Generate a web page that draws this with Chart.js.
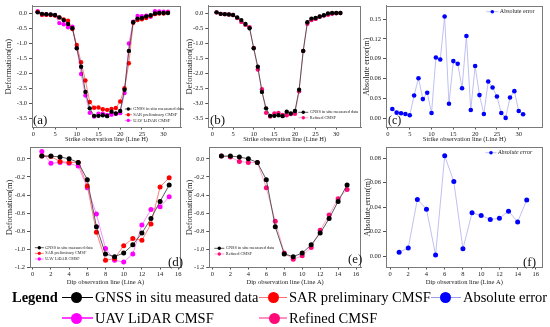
<!DOCTYPE html>
<html><head><meta charset="utf-8">
<script src="https://cdn.jsdelivr.net/npm/chart.js@4/dist/chart.umd.min.js"></script>
<style>
html,body{margin:0;padding:0;background:#fff;}
#wrap{position:relative;width:550px;height:327px;overflow:hidden;font-family:'Liberation Serif',serif;}
canvas{position:absolute;}
.lg{position:absolute;font-size:14.5px;line-height:17px;white-space:nowrap;color:#000;}
.ln{position:absolute;height:1.5px;}
.dot{position:absolute;width:11px;height:11px;border-radius:50%;}
</style></head><body>
<div id="wrap">
<canvas id="ca" width="185" height="143" style="left:0;top:0"></canvas>
<canvas id="cb" width="185" height="143" style="left:180px;top:0"></canvas>
<canvas id="cc" width="190" height="143" style="left:360px;top:0"></canvas>
<canvas id="cd" width="185" height="146" style="left:0;top:140px"></canvas>
<canvas id="ce" width="185" height="146" style="left:180px;top:140px"></canvas>
<canvas id="cf" width="190" height="146" style="left:360px;top:140px"></canvas>
<div id="legend"></div>
</div>
<script>
// ---------- data ----------
const strikeLine = [1,2,3,4,5,6,7,8,9,10,11,12,13,14,15,16,17,18,19,20,21,22,23,24,25,26,27,28,29,30,31];
const strikeGNSS = [0.04,-0.01,-0.02,-0.03,-0.05,-0.13,-0.22,-0.35,-0.49,-1.16,-1.78,-2.62,-3.17,-3.42,-3.42,-3.40,-3.43,-3.28,-3.34,-3.26,-2.55,-1.25,-0.29,-0.17,-0.15,-0.10,-0.06,0.00,0.02,0.02,0.02];
const strikeSAR = [0.055,-0.04,-0.04,-0.05,-0.07,-0.13,-0.20,-0.24,-0.52,-1.05,-1.63,-2.24,-2.96,-3.15,-3.14,-3.20,-3.22,-3.19,-3.16,-2.94,-2.50,-1.66,-0.31,-0.22,-0.19,-0.15,-0.08,-0.02,0.00,0.00,0.03];
const strikeUAV = [0.08,-0.03,-0.03,-0.04,-0.06,-0.32,-0.36,-0.46,-0.44,-1.15,-2.02,-2.74,-3.32,-3.44,-3.35,-3.35,-3.39,-3.38,-3.35,-3.33,-2.66,-1.00,-0.27,-0.08,-0.09,-0.07,-0.11,0.08,0.07,0.06,0.06];
const strikeRefined = [0.04,-0.01,-0.02,-0.03,-0.05,-0.15,-0.28,-0.38,-0.46,-1.15,-1.87,-2.53,-3.32,-3.44,-3.34,-3.32,-3.39,-3.40,-3.36,-3.35,-2.60,-1.25,-0.34,-0.22,-0.18,-0.11,-0.07,-0.04,-0.01,0.01,0.02];
const strikeAbsErr = [0.014,0.0085,0.0075,0.0065,0.0045,0.0345,0.0605,0.029,0.0385,0.008,0.092,0.089,0.154,0.022,0.0865,0.0825,0.0455,0.1245,0.0125,0.079,0.035,0.0065,0.0555,0.0465,0.033,0.008,0.0005,0.0315,0.041,0.011,0.006];

const dipLine = [1,2,3,4,5,6,7,8,9,10,11,12,13,14,15];
const dipGNSS = [0.03,0.03,0.02,0.00,-0.04,-0.23,-0.75,-1.05,-1.08,-1.04,-0.95,-0.82,-0.66,-0.47,-0.29];
const dipSAR = [0.03,0.025,-0.03,-0.04,-0.04,-0.30,-0.81,-1.12,-1.10,-0.96,-0.88,-0.90,-0.72,-0.31,-0.21];
const dipUAV = [0.08,-0.05,-0.04,-0.05,-0.08,-0.32,-0.61,-0.99,-1.12,-1.14,-1.05,-0.73,-0.56,-0.53,-0.42];
const dipRefined = [0.03,0.02,-0.03,-0.04,-0.04,-0.32,-0.69,-1.04,-1.11,-1.07,-0.98,-0.79,-0.62,-0.44,-0.34];
const dipAbsErr = [0.0032,0.0067,0.0464,0.0384,0.001,0.082,0.061,0.006,0.0354,0.0333,0.030,0.031,0.0368,0.028,0.046];

const strikeXTicks = [0,5,10,15,20,25,30];
const dipXTicks = [0,2,4,6,8,10,12,14,16];
const strikeDefTicks = [0,-0.5,-1,-1.5,-2,-2.5,-3,-3.5];
const dipDefTicks = [0,-0.2,-0.4,-0.6,-0.8,-1,-1.2];
const strikeErrTicks = [0,0.03,0.06,0.09,0.12,0.15];
const dipErrTicks = [0,0.02,0.04,0.06,0.08];

const nameGNSS = 'GNSS in situ measured data';
const nameSAR = 'SAR preliminary CMSF';
const nameUAV = 'UAV LiDAR CMSF';
const nameRefined = 'Refined CMSF';
const nameErr = 'Absolute error';

// ---------- styles ----------
const ST = {
  gnss: {dot:'#000000', line:'#333333'},
  sar: {dot:'#ff0000', line:'#ff6060'},
  uav: {dot:'#ff00ff', line:'#ff70ff'},
  ref: {dot:'#ff0a78', line:'#ff90bf'},
  err: {dot:'#0000ff', line:'#b0b0f0'}
};
const FONT = 'Liberation Serif';
Chart.defaults.font.family = FONT;

const decor = {
  id:'decor',
  afterDatasetsDraw(chart, args, o) {
    const {ctx, chartArea:a} = chart;
    ctx.save();
    ctx.strokeStyle = '#7a7a7a'; ctx.lineWidth = 1;
    const L = Math.round(a.left)+0.5, T = Math.round(a.top)+0.5, R = Math.round(a.right)-0.5, B = Math.round(a.bottom)-0.5;
    ctx.strokeRect(L, T, R-L, B-T);
    chart.data.datasets.forEach((d,i)=>{
      const y = o.ly + i*o.dy;
      ctx.strokeStyle = d.borderColor; ctx.lineWidth = 0.8;
      ctx.beginPath(); ctx.moveTo(o.lx-o.half, y); ctx.lineTo(o.lx+o.half, y); ctx.stroke();
      ctx.fillStyle = d.pointBackgroundColor; ctx.beginPath(); ctx.arc(o.lx, y, o.mr, 0, Math.PI*2); ctx.fill();
      ctx.fillStyle = '#222'; ctx.font = (o.italic?'italic ':'') + o.fs + 'px "'+FONT+'"';
      ctx.textBaseline = 'middle'; ctx.textAlign = 'left';
      ctx.fillText(d.label, o.lx+o.half+1.5, y);
    });
    ctx.font = o.tfs + 'px "'+FONT+'"'; ctx.fillStyle = '#111'; ctx.textBaseline = 'alphabetic'; ctx.textAlign='left';
    ctx.fillText(o.tag, o.tx, o.ty);
    ctx.restore();
  }
};

function panel(id, o) {
  return new Chart(document.getElementById(id), {
    type:'line',
    data:{datasets:o.series.map(s=>({
      label:s.label,
      data:o.x.map((xv,i)=>({x:xv, y:s.values[i]})),
      borderColor:s.st.line, borderWidth:0.8,
      pointBackgroundColor:s.st.dot, pointBorderColor:s.st.dot, pointBorderWidth:0,
      pointRadius:o.r, pointStyle:'circle', tension:0, fill:false
    }))},
    options:{
      responsive:false, animation:false, devicePixelRatio:1,
      layout:{padding:o.pad},
      plugins:{legend:{display:false}, tooltip:{enabled:false}, decor:o.decor},
      scales:{
        x:{type:'linear', min:o.xr[0], max:o.xr[1],
          afterBuildTicks:s=>{s.ticks=o.xt.map(v=>({value:v}));},
          afterFit:s=>{s.height=o.xh;},
          grid:{drawOnChartArea:false, drawTicks:true, tickLength:2, color:'#555'},
          border:{display:true, color:'#7a7a7a'},
          ticks:{padding:1, color:'#222', font:{size:6.5}, maxRotation:0, autoSkip:false, callback:v=>String(v)},
          title:{display:true, text:o.xTitle, color:'#222', font:{size:6.5}, padding:0}},
        y:{type:'linear', min:o.yr[0], max:o.yr[1],
          afterBuildTicks:s=>{s.ticks=o.yt.map(v=>({value:v}));},
          afterFit:s=>{s.width=o.yw;},
          grid:{drawOnChartArea:false, drawTicks:true, tickLength:3, color:'#555'},
          border:{display:true, color:'#7a7a7a'},
          ticks:{padding:2, color:'#222', font:{size:6.5}, autoSkip:false, callback:v=>Number(v).toFixed(o.yd)},
          title:{display:true, text:o.yTitle, color:'#222', font:{size:o.ytfs}, padding:{top:o.ytp, bottom:0}}}
      }
    },
    plugins:[decor]
  });
}

const strikeX = 'Strike observation line (Line H)';
const dipX = 'Dip observation line (Line A)';
const defY = 'Deformation(m)';
const errY = 'Absolute error(m)';

panel('ca', {x:strikeLine, r:2.2, pad:{top:5,right:3,left:0,bottom:0}, xr:[-0.3,34], yr:[-3.81,0.255], xt:strikeXTicks, yt:strikeDefTicks, yd:1, xh:15.5, yw:32, xTitle:strikeX, yTitle:defY, ytfs:8.5, ytp:4,
  series:[{label:nameGNSS, values:strikeGNSS, st:ST.gnss},{label:nameSAR, values:strikeSAR, st:ST.sar},{label:nameUAV, values:strikeUAV, st:ST.uav}],
  decor:{lx:128.3, ly:109, dy:5.7, half:3.5, mr:1.7, fs:4.5, tag:'(a)', tx:33, ty:124, tfs:13}});

panel('cb', {x:strikeLine, r:2.2, pad:{top:5,right:3,left:0,bottom:0}, xr:[-1,36], yr:[-3.81,0.255], xt:strikeXTicks, yt:strikeDefTicks, yd:1, xh:15.5, yw:28.3, xTitle:strikeX, yTitle:defY, ytfs:8.5, ytp:5,
  series:[{label:nameGNSS, values:strikeGNSS, st:ST.gnss},{label:nameRefined, values:strikeRefined, st:ST.ref}],
  decor:{lx:123.3, ly:112.3, dy:5.4, half:5, mr:1.7, fs:4.3, tag:'(b)', tx:30, ty:124, tfs:13}});

panel('cc', {x:strikeLine, r:2.3, pad:{top:5,right:7.3,left:0,bottom:0}, xr:[-0.45,35.5], yr:[-0.014,0.17], xt:strikeXTicks, yt:strikeErrTicks, yd:2, xh:15.5, yw:26, xTitle:strikeX, yTitle:errY, ytfs:8, ytp:2,
  series:[{label:nameErr, values:strikeAbsErr, st:ST.err}],
  decor:{lx:132.3, ly:11.7, dy:0, half:6, mr:1.8, fs:6, tag:'(c)', tx:28, ty:124, tfs:12}});

panel('cd', {x:dipLine, r:2.5, pad:{top:7.3,right:2.3,left:0,bottom:0}, xr:[-0.3,16.3], yr:[-1.2,0.127], xt:dipXTicks, yt:dipDefTicks, yd:1, xh:18.5, yw:30, xTitle:dipX, yTitle:defY, ytfs:8.5, ytp:5,
  series:[{label:nameGNSS, values:dipGNSS, st:ST.gnss},{label:nameSAR, values:dipSAR, st:ST.sar},{label:nameUAV, values:dipUAV, st:ST.uav}],
  decor:{lx:39.3, ly:107.7, dy:5.65, half:4.5, mr:1.7, fs:4.2, tag:'(d)', tx:168, ty:126, tfs:13}});

panel('ce', {x:dipLine, r:2.5, pad:{top:7.3,right:1.7,left:0,bottom:0}, xr:[-0.35,16.55], yr:[-1.2,0.127], xt:dipXTicks, yt:dipDefTicks, yd:1, xh:18.5, yw:29.3, xTitle:dipX, yTitle:defY, ytfs:8.5, ytp:5,
  series:[{label:nameGNSS, values:dipGNSS, st:ST.gnss},{label:nameRefined, values:dipRefined, st:ST.ref}],
  decor:{lx:39.3, ly:108.3, dy:5.7, half:5, mr:1.7, fs:4.3, tag:'(e)', tx:168, ty:123, tfs:13}});

panel('cf', {x:dipLine, r:2.5, pad:{top:7.3,right:7.3,left:0,bottom:0}, xr:[-0.44,16.75], yr:[-0.0093,0.089], xt:dipXTicks, yt:dipErrTicks, yd:2, xh:18.5, yw:26, xTitle:dipX, yTitle:errY, ytfs:8, ytp:3,
  series:[{label:nameErr, values:dipAbsErr, st:ST.err}],
  decor:{lx:131, ly:12.7, dy:0, half:5.5, mr:1.8, fs:5.9, italic:true, tag:'(f)', tx:163, ty:126, tfs:13}});

// ---------- bottom legend (HTML) ----------
const legendItems = [
  {label:nameGNSS, dot:'#000000', line:'#000000', cx:76, cy:297.6, lx0:62, lx1:93, tx:95},
  {label:nameSAR, dot:'#ff0000', line:'#ff7070', cx:273, cy:297.6, lx0:259, lx1:287, tx:289},
  {label:nameErr, dot:'#0000ff', line:'#9a9af0', cx:445, cy:297.6, lx0:431, lx1:461, tx:463},
  {label:nameUAV, dot:'#ff00ff', line:'#ff40ff', cx:76, cy:318, lx0:62, lx1:93, tx:95},
  {label:nameRefined, dot:'#ff0a78', line:'#ff90bf', cx:274, cy:318, lx0:259, lx1:287, tx:289}
];
const lg = document.getElementById('legend');
let html = '<div class="lg" style="left:12px;top:289px;font-weight:bold;">Legend</div>';
legendItems.forEach(it=>{
  html += `<div class="ln" style="left:${it.lx0}px;top:${it.cy-0.75}px;width:${it.lx1-it.lx0}px;background:${it.line}"></div>`;
  html += `<div class="dot" style="left:${it.cx-5.5}px;top:${it.cy-5.5}px;background:${it.dot}"></div>`;
  html += `<div class="lg" style="left:${it.tx}px;top:${it.cy-8.5}px;">${it.label}</div>`;
});
lg.innerHTML = html;
</script>
</body></html>
